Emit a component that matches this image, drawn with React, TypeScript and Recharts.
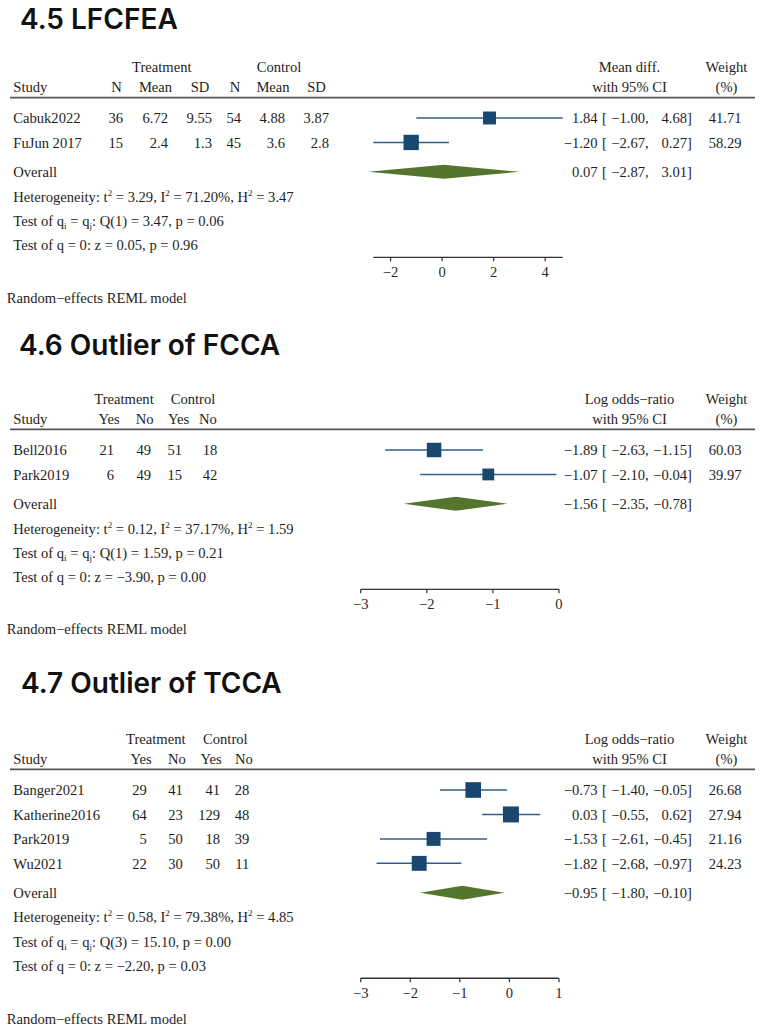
import React from "react";
import { ComposedChart, XAxis, YAxis, Scatter, ReferenceLine } from "recharts";

const SERIF = '"Liberation Serif", "Times New Roman", Times, serif';
const SANS = 'Inter, "Open Sans", "Noto Sans", sans-serif';
const INK = "#1e1e1e";
const NAVY = "#1a476f";
const CI_COLOR = "#2f5f8f";
const GREEN = "#55752f";
const ROW = 24.45;
const FS = 14.6;

// ---------- 4.5 LFCFEA ----------
const studies45 = ["Cabuk2022", "FuJun 2017"];
const trtN45 = ["36", "15"];
const trtMean45 = ["6.72", "2.4"];
const trtSD45 = ["9.55", "1.3"];
const ctlN45 = ["54", "45"];
const ctlMean45 = ["4.88", "3.6"];
const ctlSD45 = ["3.87", "2.8"];
const est45 = [1.84, -1.2];
const lo45 = [-1.0, -2.67];
const hi45 = [4.68, 0.27];
const weight45 = [41.71, 58.29];
const overall45 = [0.07, -2.87, 3.01];
const het45 = ["3.29", "71.20%", "3.47"];
const tests45 = ["Q(1) = 3.47, p = 0.06", "z = 0.05, p = 0.96"];
const ticks45 = [-2, 0, 2, 4];
const domain45 = [-2.67, 4.68];

// ---------- 4.6 Outlier of FCCA ----------
const studies46 = ["Bell2016", "Park2019"];
const trtYes46 = ["21", "6"];
const trtNo46 = ["49", "49"];
const ctlYes46 = ["51", "15"];
const ctlNo46 = ["18", "42"];
const est46 = [-1.89, -1.07];
const lo46 = [-2.63, -2.1];
const hi46 = [-1.15, -0.04];
const weight46 = [60.03, 39.97];
const overall46 = [-1.56, -2.35, -0.78];
const het46 = ["0.12", "37.17%", "1.59"];
const tests46 = ["Q(1) = 1.59, p = 0.21", "z = \u22123.90, p = 0.00"];
const ticks46 = [-3, -2, -1, 0];
const domain46 = [-3, 0];

// ---------- 4.7 Outlier of TCCA ----------
const studies47 = ["Banger2021", "Katherine2016", "Park2019", "Wu2021"];
const trtYes47 = ["29", "64", "5", "22"];
const trtNo47 = ["41", "23", "50", "30"];
const ctlYes47 = ["41", "129", "18", "50"];
const ctlNo47 = ["28", "48", "39", "11"];
const est47 = [-0.73, 0.03, -1.53, -1.82];
const lo47 = [-1.4, -0.55, -2.61, -2.68];
const hi47 = [-0.05, 0.62, -0.45, -0.97];
const weight47 = [26.68, 27.94, 21.16, 24.23];
const overall47 = [-0.95, -1.8, -0.1];
const het47 = ["0.58", "79.38%", "4.85"];
const tests47 = ["Q(3) = 15.10, p = 0.00", "z = \u22122.20, p = 0.03"];
const ticks47 = [-3, -2, -1, 0, 1];
const domain47 = [-3, 1];

const panels = [
  {
    title: "4.5 LFCFEA", titleX: 20, titleY: 28.8, row0: 118.3, axisL: 373.3, axisR: 562.7,
    domain: domain45, ticks: ticks45, maxSq: 15.3, randomY: 303,
    groups: [{ label: "Treatment", cx: 161.8 }, { label: "Control", cx: 279 }],
    cols: [
      { head: "N", hx: 116.5, right: 123, vals: trtN45 },
      { head: "Mean", hx: 155.5, right: 168, vals: trtMean45 },
      { head: "SD", hx: 200, right: 212, vals: trtSD45 },
      { head: "N", hx: 235, right: 241, vals: ctlN45 },
      { head: "Mean", hx: 273, right: 285, vals: ctlMean45 },
      { head: "SD", hx: 316.5, right: 329, vals: ctlSD45 },
    ],
    effHead: ["Mean diff.", "with 95% CI"],
    studies: studies45, est: est45, lo: lo45, hi: hi45, weight: weight45, overall: overall45, het: het45, tests: tests45,
  },
  {
    title: "4.6 Outlier of FCCA", titleX: 19, titleY: 355, row0: 450, axisL: 360.7, axisR: 559,
    domain: domain46, ticks: ticks46, maxSq: 14.5, randomY: 633.5,
    groups: [{ label: "Treatment", cx: 124 }, { label: "Control", cx: 193 }],
    cols: [
      { head: "Yes", hx: 109, right: 114, vals: trtYes46 },
      { head: "No", hx: 144.7, right: 151, vals: trtNo46 },
      { head: "Yes", hx: 178.5, right: 182, vals: ctlYes46 },
      { head: "No", hx: 208, right: 217.3, vals: ctlNo46 },
    ],
    effHead: ["Log odds\u2212ratio", "with 95% CI"],
    studies: studies46, est: est46, lo: lo46, hi: hi46, weight: weight46, overall: overall46, het: het46, tests: tests46,
  },
  {
    title: "4.7 Outlier of TCCA", titleX: 21, titleY: 693.3, row0: 790, axisL: 360.7, axisR: 559,
    domain: domain47, ticks: ticks47, maxSq: 16, randomY: 1023.5,
    groups: [{ label: "Treatment", cx: 155.8 }, { label: "Control", cx: 225.3 }],
    cols: [
      { head: "Yes", hx: 141, right: 146.7, vals: trtYes47 },
      { head: "No", hx: 177, right: 182.7, vals: trtNo47 },
      { head: "Yes", hx: 211, right: 220, vals: ctlYes47 },
      { head: "No", hx: 244, right: 249.3, vals: ctlNo47 },
    ],
    effHead: ["Log odds\u2212ratio", "with 95% CI"],
    studies: studies47, est: est47, lo: lo47, hi: hi47, weight: weight47, overall: overall47, het: het47, tests: tests47,
  },
];

const T = { fontFamily: SERIF, fontSize: FS, fill: INK };
const fmt = (v: number) => (v < 0 ? "\u2212" : "") + Math.abs(v).toFixed(2);
const fmtTick = (v: number) => (v < 0 ? "\u2212" : "") + String(Math.abs(v));

function EffectText({ y, est, lo, hi }: { y: number; est: number; lo: number; hi: number }) {
  return (
    <g>
      <text x={597.5} y={y} textAnchor="end" {...T}>{fmt(est)}</text>
      <text x={602} y={y} {...T}>[</text>
      <text x={645} y={y} textAnchor="end" {...T}>{fmt(lo)}</text>
      <text x={645} y={y} {...T}>,</text>
      <text x={687} y={y} textAnchor="end" {...T}>{fmt(hi)}</text>
      <text x={687} y={y} {...T}>]</text>
    </g>
  );
}

function ForestPanel({ p }: { p: any }) {
  const n = p.studies.length;
  const top = p.row0 - 18;
  const plotH = (n + 3.7) * ROW;
  const height = 18 + plotH + 40;
  const maxW = Math.max(...p.weight);
  const [oEst, oLo, oHi] = p.overall;
  const textRows = [
    ...p.studies.map((s: string, i: number) => ({ x: p.est[i], y: i, idx: i, kind: "study" })),
    { x: oEst, y: n + 0.2, kind: "overall" },
    { x: oEst, y: n + 1.2, kind: "het" },
    { x: oEst, y: n + 2.2, kind: "q" },
    { x: oEst, y: n + 3.2, kind: "z" },
  ];

  // CI line + weighted square, both placed from the scaled CI end points
  const studyShape = (i: number) => (props: any) => {
    const { x1, y1, x2 } = props;
    const xe = x1 + ((p.est[i] - p.lo[i]) / (p.hi[i] - p.lo[i])) * (x2 - x1);
    const s = p.maxSq * Math.sqrt(p.weight[i] / maxW);
    return (
      <g>
        <line x1={x1} x2={x2} y1={y1} y2={y1} stroke={CI_COLOR} strokeWidth={1.5} />
        <rect x={xe - s / 2} y={y1 - s / 2} width={s} height={s} fill={NAVY} />
      </g>
    );
  };

  const textShape = (props: any) => {
    const { cy, payload } = props;
    const y = cy + 5.3;
    if (payload.kind === "study") {
      const i = payload.idx;
      return (
        <g>
          <text x={13.3} y={y} {...T}>{p.studies[i]}</text>
          {p.cols.map((c: any, k: number) => (
            <text key={k} x={c.right} y={y} textAnchor="end" {...T}>{c.vals[i]}</text>
          ))}
          <EffectText y={y} est={p.est[i]} lo={p.lo[i]} hi={p.hi[i]} />
          <text x={741.5} y={y} textAnchor="end" {...T}>{p.weight[i].toFixed(2)}</text>
        </g>
      );
    }
    if (payload.kind === "overall") {
      return (
        <g>
          <text x={13.3} y={y} {...T}>Overall</text>
          <EffectText y={y} est={oEst} lo={oLo} hi={oHi} />
        </g>
      );
    }
    if (payload.kind === "het") {
      return (
        <text x={13.3} y={y} {...T}>
          {"Heterogeneity: t"}
          <tspan dy={-6} fontSize={9}>2</tspan>
          <tspan dy={6}>{" = " + p.het[0] + ", I"}</tspan>
          <tspan dy={-6} fontSize={9}>2</tspan>
          <tspan dy={6}>{" = " + p.het[1] + ", H"}</tspan>
          <tspan dy={-6} fontSize={9}>2</tspan>
          <tspan dy={6}>{" = " + p.het[2]}</tspan>
        </text>
      );
    }
    if (payload.kind === "q") {
      return (
        <text x={13.3} y={y} {...T}>
          {"Test of q"}
          <tspan dy={3} fontSize={9}>i</tspan>
          <tspan dy={-3}>{" = q"}</tspan>
          <tspan dy={3} fontSize={9}>j</tspan>
          <tspan dy={-3}>{": " + p.tests[0]}</tspan>
        </text>
      );
    }
    return <text x={13.3} y={y} {...T}>{"Test of q = 0: " + p.tests[1]}</text>;
  };

  const diamondShape = (props: any) => {
    const { x1, y1, x2 } = props;
    const xe = x1 + ((oEst - oLo) / (oHi - oLo)) * (x2 - x1);
    const h = 7;
    return <polygon points={`${x1},${y1} ${xe},${y1 - h} ${x2},${y1} ${xe},${y1 + h}`} fill={GREEN} />;
  };

  return (
    <div style={{ position: "absolute", left: 0, top, width: 762, height }}>
      <ComposedChart
        width={762}
        height={height}
        margin={{ top: 18, bottom: 10, left: p.axisL, right: 762 - p.axisR }}
      >
        <XAxis
          type="number"
          dataKey="x"
          domain={p.domain}
          ticks={p.ticks}
          interval={0}
          height={30}
          tickSize={4}
          tickMargin={5}
          tickFormatter={fmtTick}
          axisLine={{ stroke: "#333", strokeWidth: 1.3 }}
          tickLine={{ stroke: "#333", strokeWidth: 1.2 }}
          tick={{ fill: "#2a2a2a", fontSize: FS, fontFamily: SERIF }}
        />
        <YAxis type="number" dataKey="y" domain={[0, n + 3.7]} reversed hide />
        {p.studies.map((s: string, i: number) => (
          <ReferenceLine
            key={s}
            segment={[{ x: p.lo[i], y: i }, { x: p.hi[i], y: i }]}
            ifOverflow="visible"
            shape={studyShape(i)}
          />
        ))}
        <ReferenceLine
          segment={[{ x: oLo, y: n + 0.2 }, { x: oHi, y: n + 0.2 }]}
          ifOverflow="visible"
          shape={diamondShape}
        />
        <Scatter data={textRows} shape={textShape} isAnimationActive={false} />
      </ComposedChart>
    </div>
  );
}

function Overlay() {
  return (
    <svg width={762} height={1026} style={{ position: "absolute", left: 0, top: 0, pointerEvents: "none" }}>
      {panels.map((p) => (
        <g key={p.title}>
          <text x={p.titleX} y={p.titleY} fontFamily={SANS} fontSize={28} fontWeight={600} fill="#111">
            {p.title}
          </text>
          {p.groups.map((g) => (
            <text key={g.label} x={g.cx} y={p.row0 - 46.3} textAnchor="middle" {...T}>{g.label}</text>
          ))}
          <text x={13.3} y={p.row0 - 26.3} {...T}>Study</text>
          {p.cols.map((c, k) => (
            <text key={k} x={c.hx} y={p.row0 - 26.3} textAnchor="middle" {...T}>{c.head}</text>
          ))}
          <text x={629.5} y={p.row0 - 46.3} textAnchor="middle" {...T}>{p.effHead[0]}</text>
          <text x={629.5} y={p.row0 - 26.3} textAnchor="middle" {...T}>{p.effHead[1]}</text>
          <text x={726.5} y={p.row0 - 46.3} textAnchor="middle" {...T}>Weight</text>
          <text x={726.5} y={p.row0 - 26.3} textAnchor="middle" {...T}>(%)</text>
          <line x1={10} x2={755} y1={p.row0 - 20.7} y2={p.row0 - 20.7} stroke="#555" strokeWidth={1.8} />
          <text x={6.7} y={p.randomY} {...T}>{"Random\u2212effects REML model"}</text>
        </g>
      ))}
    </svg>
  );
}

export default function App() {
  return (
    <div style={{ position: "absolute", left: 0, top: 0, width: 762, height: 1026, background: "#fff", overflow: "hidden" }}>
      {panels.map((p) => (
        <ForestPanel key={p.title} p={p} />
      ))}
      <Overlay />
    </div>
  );
}
